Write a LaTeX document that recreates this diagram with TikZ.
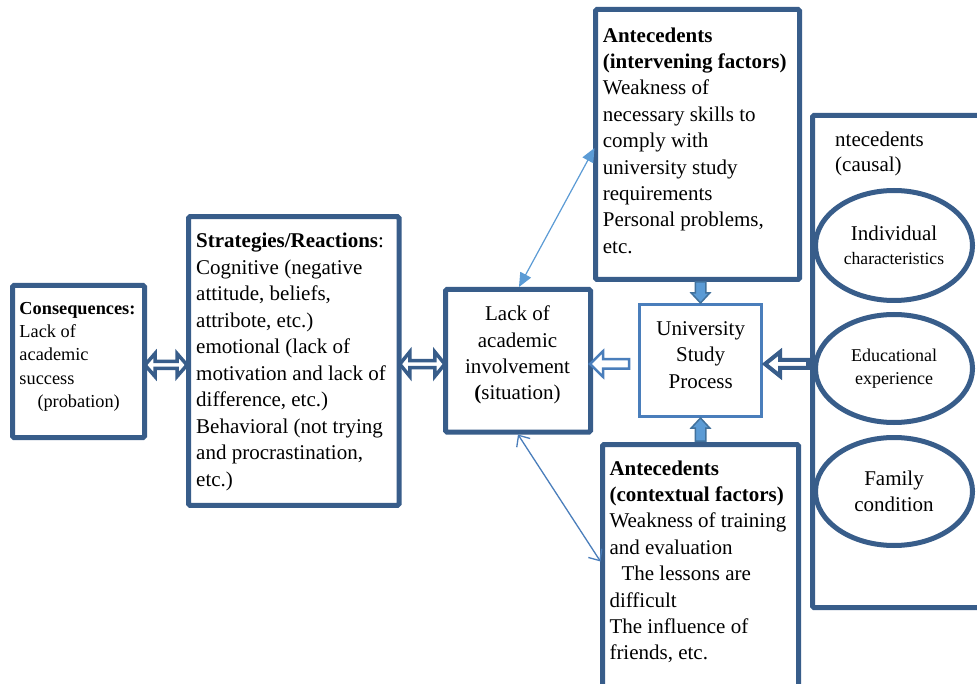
\documentclass[tikz,border=0pt]{standalone}
\usepackage{fontspec}
\setmainfont{Liberation Serif}
\usetikzlibrary{calc,shapes.geometric,arrows.meta}
\definecolor{boxblue}{RGB}{56,93,138}
\definecolor{midblue}{RGB}{74,126,187}
\definecolor{lightblue}{RGB}{91,155,213}
\definecolor{edgeblue}{RGB}{65,113,156}
\newcommand\fsA{\fontsize{21}{26.4}\selectfont}
% double block arrow: style, left tip, length, half head, half shaft, head length
\newcommand\dblarr[6]{\draw[#1] #2 -- ++({#6},{-(#4)}) -- ++(0,{(#4)-(#5)}) -- ++({(#3)-2*(#6)},0) -- ++(0,{-(#4)+(#5)}) -- ++({#6},{#4}) -- ++({-(#6)},{#4}) -- ++(0,{-(#4)+(#5)}) -- ++({-(#3)+2*(#6)},0) -- ++(0,{(#4)-(#5)}) -- cycle;}
% left-pointing block arrow: style, tip, length, half head, half shaft, head length
\newcommand\larr[6]{\draw[#1] #2 -- ++({#6},{-(#4)}) -- ++(0,{(#4)-(#5)}) -- ++({(#3)-(#6)},0) -- ++(0,{2*(#5)}) -- ++({-(#3)+(#6)},0) -- ++(0,{(#4)-(#5)}) -- cycle;}
% vertical block arrow: style, tip, length (+ tail above), half head, half shaft, head length
\newcommand\varr[6]{\draw[#1] #2 -- ++({-(#4)},{-(#6)}) -- ++({(#4)-(#5)},0) -- ++(0,{-(#3)+(#6)}) -- ++({2*(#5)},0) -- ++(0,{(#3)-(#6)}) -- ++({(#4)-(#5)},0) -- cycle;}
\tikzset{
  box/.style={draw=boxblue, line width=5pt, rectangle, rounded corners=1.5pt, inner sep=0pt, fill=white},
  uspbox/.style={draw=midblue, line width=3pt, rectangle, inner sep=0pt, fill=white},
  oval/.style={draw=boxblue, line width=5pt, ellipse, inner sep=0pt, align=center, fill=white},
  txt/.style={inner sep=0pt, anchor=north west, align=left},
  ctxt/.style={inner sep=0pt, anchor=north, align=center},
  hollow/.style={draw=boxblue, line width=3.5pt, fill=white},
  hollowfour/.style={draw=boxblue, line width=4pt, fill=white},
  hollowlight/.style={draw=midblue, line width=2.5pt, fill=white},
  solidarr/.style={draw=edgeblue, line width=1.5pt, fill=lightblue},
  thinA/.style={draw=lightblue, line width=1.2pt, {Triangle[length=14pt,width=12pt]}-{Triangle[length=14pt,width=12pt]}},
  thinB/.style={draw=midblue, line width=1.3pt, {Straight Barb[length=9pt,width=16pt]}-{Straight Barb[length=9pt,width=16pt]}}
}
\begin{document}
\begin{tikzpicture}[x=1pt, y=-1pt]
\useasboundingbox (0,0) rectangle (977,684);
\path[clip] (0,0) rectangle (977,684);
\fill[white] (0,0) rectangle (977,684);
% boxes
\node[box, minimum width=132pt, minimum height=152pt] (cons) at (78.5,361.5) {};
\node[box, minimum width=210.5pt, minimum height=288.7pt] (strat) at (293.75,361.1) {};
\node[box, minimum width=145pt, minimum height=142.5pt] (lack) at (518,360.75) {};
\node[box, minimum width=204pt, minimum height=270pt] (inter) at (697.5,144.5) {};
\node[uspbox, minimum width=122pt, minimum height=112pt] (usp) at (700.5,360.5) {};
\node[box, minimum width=196pt, minimum height=275.5pt] (ctx) at (700.5,582.25) {};
\node[box, minimum width=187.5pt, minimum height=492pt] (caus) at (906.25,361.5) {};
% ellipses
\node[oval, minimum width=157pt, minimum height=110pt, font=\fontsize{21}{24.4}\selectfont] (ind) at (894,245.5) {Individual\\{\fontsize{17.5}{21}\selectfont characteristics}};
\node[oval, minimum width=157pt, minimum height=108pt, font=\fontsize{18}{23.4}\selectfont] (edu) at (894,368.5) {Educational\\experience};
\node[oval, minimum width=157pt, minimum height=108pt, font=\fontsize{21}{26.6}\selectfont] (fam) at (894,491.5) {Family\\condition};
% texts
\node[txt, font=\fontsize{18.3}{23.3}\selectfont] (consT) at (19.3,297.7) {\strut\textbf{Consequences:}\\Lack of\\academic\\success\\\hspace*{18pt}(probation)};
\node[txt, font=\fontsize{21}{26.5}\selectfont] (stratT) at (196,229.2) {\strut\textbf{Strategies/Reactions}:\\Cognitive (negative\\attitude, beliefs,\\attribote, etc.)\\emotional (lack of\\motivation and lack of\\difference, etc.)\\Behavioral (not trying\\and procrastination,\\etc.)};
\node[ctxt, font=\fontsize{21}{26.3}\selectfont] (lackT) at (517.5,302.3) {\strut Lack of\\academic\\involvement\\\textbf{(}situation)};
\node[ctxt, font=\fontsize{21}{26.6}\selectfont] (uspT) at (700.7,316.4) {\strut University\\Study\\Process};
\node[txt, font=\fsA] (interT) at (602.7,23.5) {\strut\textbf{Antecedents}\\\textbf{(intervening factors)}\\Weakness of\\necessary skills to\\comply with\\university study\\requirements\\Personal problems,\\etc.};
\node[txt, font=\fsA] (ctxT) at (609.3,456.5) {\strut\textbf{Antecedents}\\\textbf{(contextual factors)}\\Weakness of training\\and evaluation\\\hspace*{12pt}The lessons are\\difficult\\The influence of\\friends, etc.};
\node[txt, font=\fontsize{21}{25}\selectfont] (causT) at (835,129.2) {\strut ntecedents\\(causal)};
% block arrows
\dblarr{hollow}{($(cons.east)+(-2,3.5)$)}{42}{11.5}{3.5}{10}
\dblarr{hollow}{($(strat.east)+(-1.7,3)$)}{45}{12.25}{3.5}{10}
\larr{hollowlight}{($(lack.east)+(-3,3.25)$)}{39}{12.75}{4.75}{13}
\larr{hollowfour}{($(usp.east)+(2,3.5)$)}{43}{12}{4}{15}
\varr{solidarr}{(usp.north)}{21}{9.25}{5.25}{10}
\varr{solidarr}{(usp.south)}{-23}{9.25}{5.25}{-10}
% thin arrows
\draw[thinA] ($(lack.north)+(1,0)$) -- ($(inter.west)+(1.5,3.5)$);
\draw[thinB] (lack.south) -- ($(ctx.north west)+(0.5,119.5)$);
\end{tikzpicture}
\end{document}
